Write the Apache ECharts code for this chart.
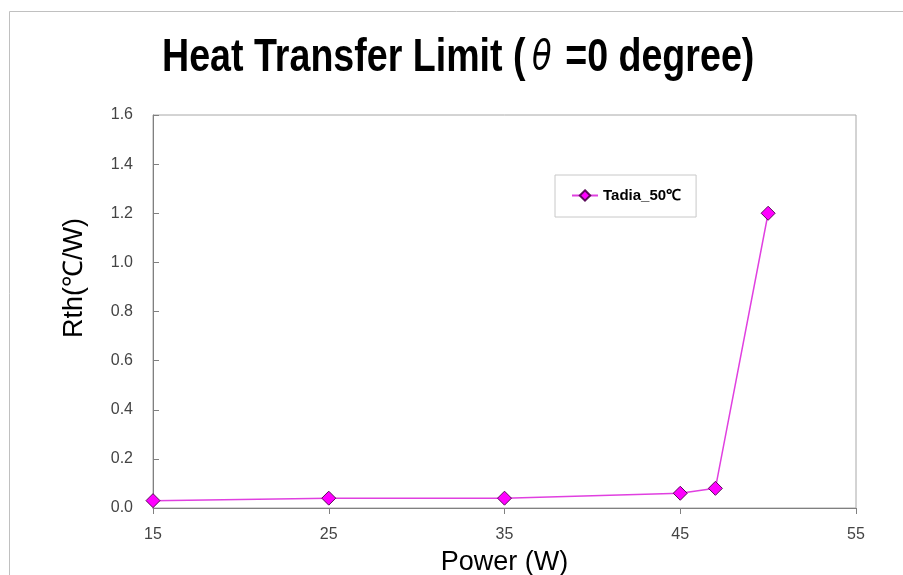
<!DOCTYPE html>
<html>
<head>
<meta charset="utf-8">
<script src="https://cdn.jsdelivr.net/npm/echarts@6/dist/echarts.min.js"></script>
<style>
  html, body { margin: 0; padding: 0; background: #fff; }
  #chart { width: 903px; height: 575px; }
</style>
</head>
<body>
<div id="chart"></div>
<script>
// Heat Transfer Limit — Rth vs Power
const powerW = [15, 25, 35, 45, 47, 50];
const rthValues = [0.03, 0.04, 0.04, 0.06, 0.08, 1.2];
const seriesName = 'Tadia_50℃';
const titleParts = ['Heat Transfer Limit (', 'θ', ' =0 degree)'];

const LABEL_FONT = '"Liberation Sans", Arial, sans-serif';
const GRAY = '#808080';

const chart = echarts.init(document.getElementById('chart'), null, { renderer: 'canvas' });

chart.setOption({
  animation: false,
  backgroundColor: '#fff',
  legend: {
    left: 555, top: 175,
    padding: [13, 15, 14, 16],
    borderColor: '#c8c8c8', borderWidth: 1, backgroundColor: '#fff',
    itemWidth: 26, itemHeight: 13,
    textStyle: { fontFamily: LABEL_FONT, fontWeight: 'bold', fontSize: 15, color: '#000' },
    data: [seriesName],
  },
  grid: {
    left: 153, right: 47, top: 115, bottom: 67,
    show: true, borderColor: '#a8a8a8', borderWidth: 1,
    outerBoundsMode: 'none',
  },
  xAxis: {
    type: 'value', min: 15, max: 55, interval: 10,
    name: 'Power (W)', nameLocation: 'middle', nameGap: 41,
    nameTextStyle: { fontFamily: LABEL_FONT, fontSize: 27, color: '#000' },
    axisLine: { lineStyle: { color: GRAY } },
    axisTick: { inside: false, length: 6, lineStyle: { color: GRAY } },
    axisLabel: { margin: 19, fontFamily: LABEL_FONT, fontSize: 16, color: '#444' },
    splitLine: { show: false },
  },
  yAxis: {
    type: 'value', min: 0, max: 1.6, interval: 0.2,
    axisLine: { show: true, lineStyle: { color: GRAY } },
    axisTick: { show: true, inside: true, length: 6, lineStyle: { color: GRAY } },
    axisLabel: { margin: 20, fontFamily: LABEL_FONT, fontSize: 16, color: '#444',
      formatter: v => v.toFixed(1) },
    splitLine: { show: false },
  },
  graphic: [
    { type: 'rect', shape: { x: 9.5, y: 11.5, width: 1000, height: 700 },
      style: { fill: 'none', stroke: '#c0c0c0', lineWidth: 1 }, silent: true, z: -1 },
    // title: condensed heavy face imitated by squeezing a bold sans
    { type: 'text', x: 162, y: 35, scaleX: 0.8,
      style: {
        text: `{t|${titleParts[0]}}{th|${titleParts[1]}}{t|${titleParts[2]}}`,
        verticalAlign: 'top',
        rich: {
          t: { font: 'bold 47px "Liberation Sans", Arial, sans-serif', fill: '#000' },
          th: { font: 'italic 40px "DejaVu Sans", sans-serif', fill: '#000', padding: [0, 4, 0, 8] },
        },
      } },
    { type: 'text', x: 75, y: 278, rotation: Math.PI / 2,
      style: { text: 'Rth(℃/W)', font: '27px "Liberation Sans", Arial, sans-serif',
        fill: '#000', align: 'center', verticalAlign: 'middle' } },
  ],
  series: [{
    name: seriesName, type: 'line',
    data: powerW.map((p, i) => [p, rthValues[i]]),
    symbol: 'diamond', symbolSize: 14,
    lineStyle: { color: '#e040e0', width: 1.5 },
    itemStyle: { color: '#ff00ff', borderColor: '#5a0a5a', borderWidth: 1 },
  }],
});
</script>
</body>
</html>
